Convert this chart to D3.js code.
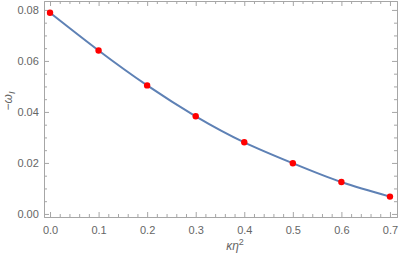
<!DOCTYPE html>
<html>
<head>
<meta charset="utf-8">
<script src="https://cdn.jsdelivr.net/npm/d3@7"></script>
<style>
  body { margin: 0; background: #fff; }
  text { font-family: "Liberation Sans", Arial, sans-serif; }
</style>
</head>
<body>
<svg id="chart"></svg>
<script>
const kappaEta2 = [0.0, 0.1, 0.2, 0.3, 0.4, 0.5, 0.6, 0.7];
const omegaI = [0.0789, 0.0641, 0.0504, 0.0383, 0.0281, 0.0199, 0.0125, 0.0068];
const xTicks = [0.0, 0.1, 0.2, 0.3, 0.4, 0.5, 0.6, 0.7];
const yTicks = [0.00, 0.02, 0.04, 0.06, 0.08];

const width = 399, height = 256;
const margin = { top: 1, right: 2, bottom: 39, left: 44 };

const svg = d3.select("#chart").attr("width", width).attr("height", height);

const x = d3.scaleLinear().domain([-0.0124, 0.7145]).range([margin.left, width - margin.right]);
const y = d3.scaleLinear().domain([-0.0012, 0.0835]).range([height - margin.bottom, margin.top]);

const frameColor = "#a6a6a6";
const labelColor = "#666";

// minor ticks
const xMinor = d3.range(0, 0.7001, 0.02).filter(v => !xTicks.some(t => Math.abs(t - v) < 1e-6));
const yMinor = d3.range(0, 0.0836, 0.005).filter(v => !yTicks.some(t => Math.abs(t - v) < 1e-6));

const x0 = margin.left, x1 = width - margin.right;
const y0 = height - margin.bottom, y1 = margin.top;

// bottom
const gb = svg.append("g").attr("transform", `translate(0,${y0})`);
gb.call(d3.axisBottom(x).tickValues(xTicks).tickSize(-5).tickSizeOuter(0).tickFormat(d3.format(".1f")));
gb.append("g").call(d3.axisBottom(x).tickValues(xMinor).tickSize(-3).tickSizeOuter(0).tickFormat(""));
// top
const gt = svg.append("g").attr("transform", `translate(0,${y1})`);
gt.call(d3.axisTop(x).tickValues(xTicks).tickSize(-5).tickSizeOuter(0).tickFormat(""));
gt.append("g").call(d3.axisTop(x).tickValues(xMinor).tickSize(-3).tickSizeOuter(0).tickFormat(""));
// left
const gl = svg.append("g").attr("transform", `translate(${x0},0)`);
gl.call(d3.axisLeft(y).tickValues(yTicks).tickSize(-5).tickSizeOuter(0).tickFormat(d3.format(".2f")));
gl.append("g").call(d3.axisLeft(y).tickValues(yMinor).tickSize(-3).tickSizeOuter(0).tickFormat(""));
// right
const gr = svg.append("g").attr("transform", `translate(${x1},0)`);
gr.call(d3.axisRight(y).tickValues(yTicks).tickSize(-5).tickSizeOuter(0).tickFormat(""));
gr.append("g").call(d3.axisRight(y).tickValues(yMinor).tickSize(-3).tickSizeOuter(0).tickFormat(""));

svg.selectAll(".domain").attr("stroke", frameColor);
svg.selectAll(".tick line").attr("stroke", frameColor);
svg.selectAll(".tick text").attr("fill", labelColor).attr("font-size", 11);
gb.selectAll(".tick text").attr("dy", "1.3em");
gl.selectAll(".tick text").attr("dx", "-0.2em");

// curve
const pts = kappaEta2.map((k, i) => [k, omegaI[i]]);
svg.append("path")
  .datum(pts)
  .attr("fill", "none")
  .attr("stroke", "#5e81b5")
  .attr("stroke-width", 2)
  .attr("d", d3.line().x(d => x(d[0])).y(d => y(d[1])).curve(d3.curveNatural));

svg.append("g").selectAll("circle")
  .data(pts)
  .join("circle")
  .attr("cx", d => x(d[0]))
  .attr("cy", d => y(d[1]))
  .attr("r", 3.2)
  .attr("fill", "#ff0000");

// axis labels
svg.append("text")
  .attr("x", 235).attr("y", 250)
  .attr("text-anchor", "middle")
  .attr("fill", labelColor)
  .attr("font-size", 12)
  .attr("font-style", "italic")
  .html('κη<tspan dy="-5" font-size="9" font-style="normal">2</tspan>');

svg.append("text")
  .attr("transform", "translate(12,101) rotate(-90)")
  .attr("text-anchor", "middle")
  .attr("fill", labelColor)
  .attr("font-size", 12)
  .html('<tspan font-style="normal">−</tspan><tspan font-style="italic">ω</tspan><tspan dy="3" font-size="9" font-style="italic">I</tspan>');
</script>
</body>
</html>
